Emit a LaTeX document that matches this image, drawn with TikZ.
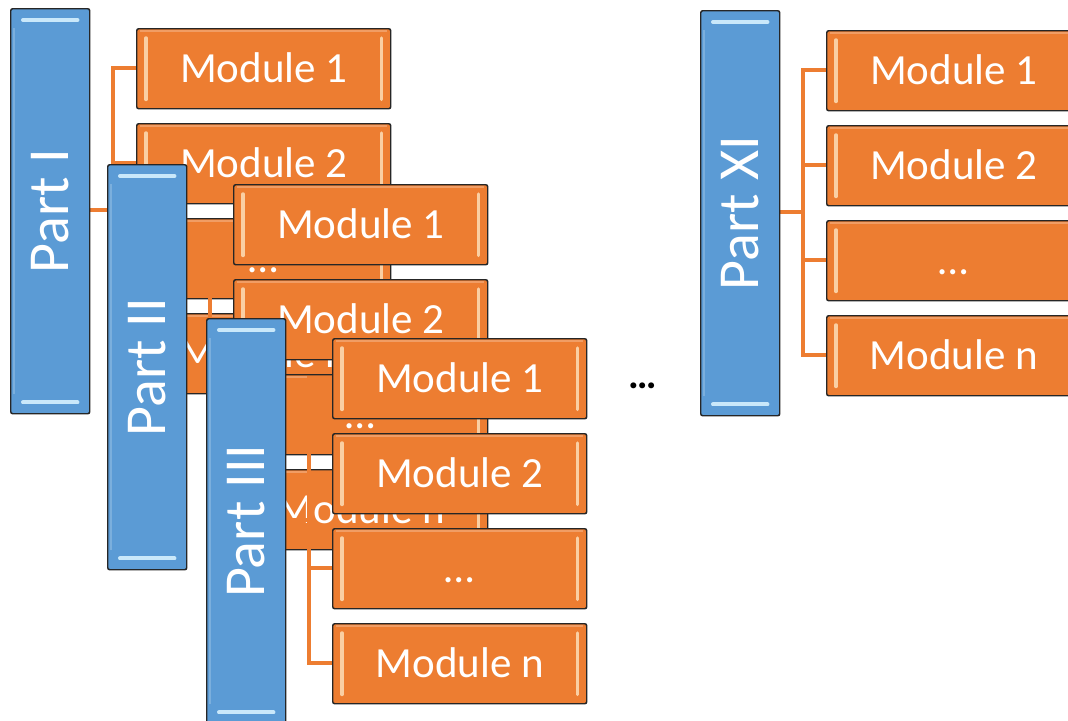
\documentclass[tikz,border=0pt]{standalone}
\usepackage{fontspec}
\setmainfont{Carlito}
\usetikzlibrary{calc}
\definecolor{orng}{HTML}{ED7D31}
\definecolor{blu}{HTML}{5B9BD5}
\definecolor{bluhi}{HTML}{C9E8FA}
\definecolor{ornghi}{HTML}{FCD9B0}
\tikzset{
  modbox/.style={draw=black!85, line width=1.1pt, fill=orng, rounded corners=1.5pt,
    minimum width=190.5pt, minimum height=60pt, inner sep=0pt, anchor=north west,
    text height=24pt, text depth=3.75pt,
    text=white, font=\fontsize{32.25}{36}\selectfont},
  partbox/.style={draw=black!85, line width=1.1pt, fill=blu, rounded corners=1.5pt,
    minimum width=59.25pt, minimum height=303.75pt, inner sep=0pt, anchor=north west},
  parttext/.style={text=white, font=\fontsize{43.5}{48}\selectfont, rotate=90, inner sep=0pt},
  conn/.style={draw=orng, line width=3.6pt},
  ohi/.style={draw=ornghi, line width=2.6pt, line cap=round, opacity=0.9},
  bhi/.style={draw=bluhi, line width=3pt, line cap=round},
}
\newcommand\modbevel[1]{%
  \draw[ohi] ($(#1.north west)+(10,10)$) -- ($(#1.south west)+(10,-10)$);
  \draw[ohi] ($(#1.north east)+(-10,10)$) -- ($(#1.south east)+(-10,-10)$);
  \draw[draw=white, opacity=0.25, line width=1.5pt] ($(#1.north west)+(4,3)$) -- ($(#1.north east)+(-4,3)$);
}
\newcommand\partbevel[1]{%
  \draw[bhi] ($(#1.north west)+(13,12)$) -- ($(#1.north east)+(-13,12)$);
  \draw[bhi] ($(#1.south west)+(13,-12)$) -- ($(#1.south east)+(-13,-12)$);
  \draw[draw=white, opacity=0.2, line width=1.5pt] ($(#1.north west)+(4,20)$) -- ($(#1.south west)+(4,-20)$);
}
\newcommand\grpdraw[4]{% id, x, y, part label
  \coordinate (#1a) at ($(#2,#3)+(126,20)$);
  \coordinate (#1b) at ($(#2,#3)+(126,115)$);
  \coordinate (#1c) at ($(#2,#3)+(126,210)$);
  \coordinate (#1d) at ($(#2,#3)+(126,305)$);
  \coordinate (#1e) at ($(#2,#3)+(0,0)$);
  % connectors
  \draw[conn] ($(#1a)+(1,40)$) -- ($(#1a)+(-23,40)$) |- ($(#1d)+(1,40)$);
  \draw[conn] ($(#1b)+(1,40)$) -- ($(#1b)+(-23,40)$);
  \draw[conn] ($(#1c)+(1,40)$) -- ($(#1c)+(-23,40)$);
  \draw[conn] ($(#1e)+(78,202)$) -- ($(#1a)+(-23,182)$);
  % modules
  \node[modbox] (#1m1) at (#1a) {Module 1}; \modbevel{#1m1}
  \node[modbox] (#1m2) at (#1b) {Module 2}; \modbevel{#1m2}
  \node[modbox] (#1m3) at (#1c) {…}; \modbevel{#1m3}
  \node[modbox] (#1m4) at (#1d) {Module n}; \modbevel{#1m4}
  % part
  \node[partbox] (#1p) at (#1e) {}; \partbevel{#1p}
  \node[parttext] (#1pl) at (#1p.center) {#4};
}
\begin{document}
\begin{tikzpicture}[x=0.75pt, y=-0.75pt]
\clip (0,0) rectangle (1068,721);
\fill[white] (0,0) rectangle (1068,721);
\grpdraw{g1}{10}{8}{Part I}
\grpdraw{g2}{107}{164}{Part II}
\grpdraw{g3}{206}{318}{Part III}
\grpdraw{g4}{700}{10}{Part XI}
\node[font=\fontsize{30}{34}\selectfont\bfseries] (dots) at (643,386) {…};
\end{tikzpicture}
\end{document}
